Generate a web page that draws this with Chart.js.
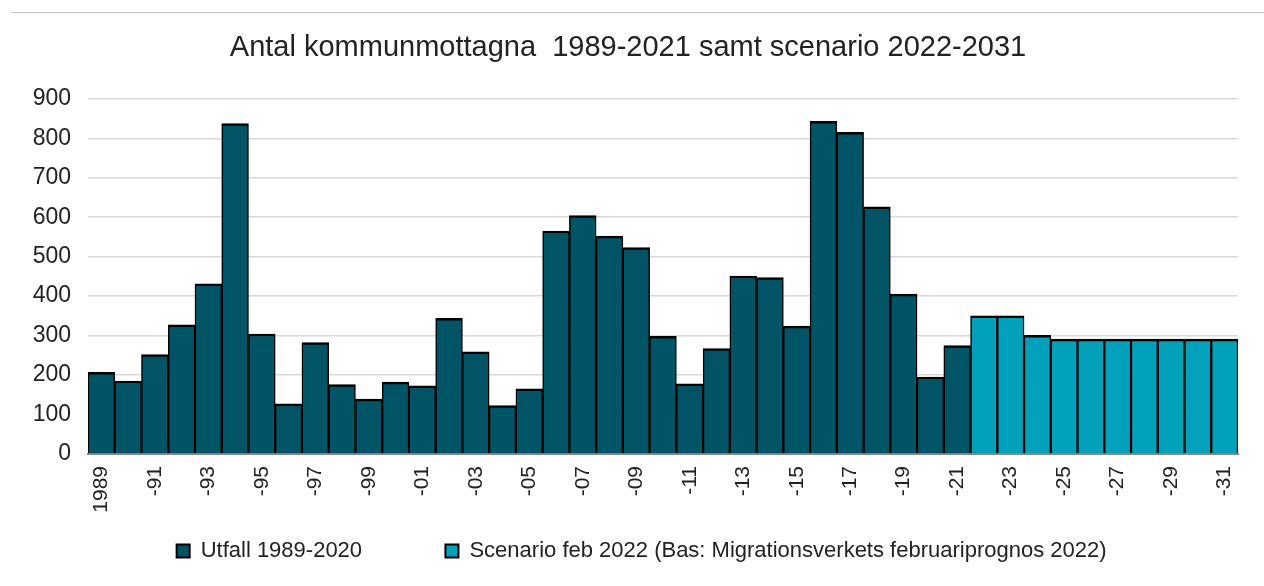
<!DOCTYPE html>
<html lang="sv">
<head>
<meta charset="utf-8">
<title>Antal kommunmottagna</title>
<script src="https://cdn.jsdelivr.net/npm/chart.js@4/dist/chart.umd.min.js"></script>
<style>
    html, body { margin: 0; padding: 0; background: #fff; }
    #wrap { position: relative; width: 1264px; height: 586px; }
    #topline { position: absolute; left: 11px; right: 0; top: 12px; height: 1px; background: #c8c8c8; }
</style>
</head>
<body>
<div id="wrap">
    <div id="topline"></div>
    <canvas id="chart" width="1264" height="586"></canvas>
</div>
<script>
// Data
const years = ['1989','1990','1991','1992','1993','1994','1995','1996','1997','1998',
    '1999','2000','2001','2002','2003','2004','2005','2006','2007','2008',
    '2009','2010','2011','2012','2013','2014','2015','2016','2017','2018',
    '2019','2020','2021','2022','2023','2024','2025','2026','2027','2028',
    '2029','2030','2031'];

const tickLabels = ['1989','','-91','','-93','','-95','','-97','',
    '-99','','-01','','-03','','-05','','-07','',
    '-09','','-11','','-13','','-15','','-17','',
    '-19','','-21','','-23','','-25','','-27','',
    '-29','','-31'];

const utfall = [207, 185, 252, 327, 431, 837, 304, 127, 282, 176,
    139, 182, 173, 344, 259, 123, 165, 565, 604, 552,
    523, 298, 178, 267, 451, 447, 324, 843, 815, 626,
    405, 195, 275, null, null, null, null, null, null, null,
    null, null, null];

const scenario = [null, null, null, null, null, null, null, null, null, null,
    null, null, null, null, null, null, null, null, null, null,
    null, null, null, null, null, null, null, null, null, null,
    null, null, null, 350, 350, 301, 291, 291, 291, 291,
    291, 291, 291];

const yTicks = [0, 100, 200, 300, 400, 500, 600, 700, 800, 900];

const textColor = '#222222';
const fontFamily = '"Liberation Sans", Arial, sans-serif';

// Diagram
const ctx = document.getElementById('chart').getContext('2d');
new Chart(ctx, {
    type: 'bar',
    data: {
        labels: years,
        datasets: [{
            label: 'Utfall 1989-2020',
            data: utfall,
            backgroundColor: '#015466',
            borderColor: '#000000',
            borderWidth: { top: 2.5, left: 1.5, right: 1.5, bottom: 0 },
            borderSkipped: 'start',
            barPercentage: 1,
            categoryPercentage: 1
        }, {
            label: 'Scenario feb 2022 (Bas: Migrationsverkets februariprognos 2022)',
            data: scenario,
            backgroundColor: '#01a0bb',
            borderColor: '#000000',
            borderWidth: { top: 2.5, left: 1.5, right: 1.5, bottom: 0 },
            borderSkipped: 'start',
            barPercentage: 1,
            categoryPercentage: 1
        }]
    },
    options: {
        responsive: false,
        animation: false,
        layout: { padding: { left: 18, right: 26, top: 0, bottom: 14 } },
        plugins: {
            title: {
                display: true,
                text: 'Antal kommunmottagna  1989-2021 samt scenario 2022-2031',
                color: textColor,
                font: { family: fontFamily, size: 29, weight: 'normal' },
                padding: { top: 31, bottom: 33 }
            },
            legend: {
                position: 'bottom',
                fullSize: false,
                labels: {
                    color: textColor,
                    font: { family: fontFamily, size: 22 },
                    boxWidth: 13,
                    boxHeight: 13,
                    padding: 10,
                    generateLabels: (chart) => {
                        const items = Chart.defaults.plugins.legend.labels.generateLabels(chart);
                        items.forEach((item, i) => {
                            item.lineWidth = 2;
                            item.strokeStyle = '#000';
                            // luft mellan posterna och centrering som i originalet
                            if (i === 0) item.text = item.text + '            ';
                            if (i === 1) item.text = item.text + '       ';
                        });
                        return items;
                    }
                }
            },
            tooltip: { enabled: false }
        },
        scales: {
            x: {
                stacked: true,
                grid: { display: false },
                border: { display: true, color: '#8a8a8a', width: 2 },
                ticks: {
                    autoSkip: false,
                    minRotation: 90,
                    maxRotation: 90,
                    padding: 4,
                    color: textColor,
                    font: { family: fontFamily, size: 21 },
                    callback: (value, index) => tickLabels[index]
                },
                afterFit: (scale) => { scale.height = 76; }
            },
            y: {
                stacked: true,
                min: 0,
                max: 900,
                afterBuildTicks: (scale) => { scale.ticks = yTicks.map(v => ({ value: v })); },
                grid: { color: '#d9d9d9', lineWidth: 1.5, drawTicks: false },
                border: { display: false },
                ticks: {
                    padding: 17,
                    color: textColor,
                    font: { family: fontFamily, size: 23 }
                },
                afterFit: (scale) => { scale.width = 70; }
            }
        }
    }
});
</script>
</body>
</html>
